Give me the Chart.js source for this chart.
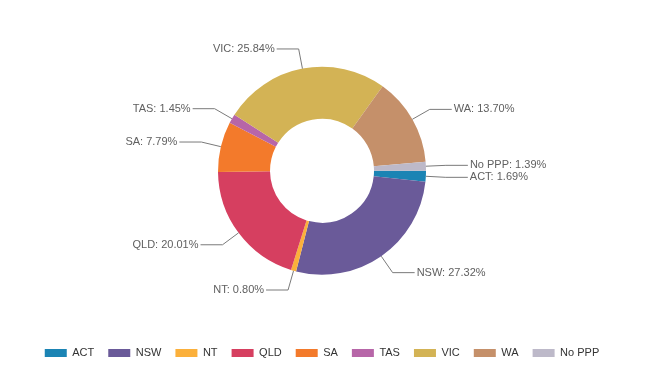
<!DOCTYPE html>
<html>
<head>
<meta charset="utf-8">
<script src="https://cdn.jsdelivr.net/npm/chart.js@4"></script>
<style>
  html, body { margin: 0; padding: 0; background: #fff; }
  #wrap { width: 650px; height: 374px; }
</style>
</head>
<body>
<div id="wrap"><canvas id="ppp"></canvas></div>
<script>
const states = ["ACT", "NSW", "NT", "QLD", "SA", "TAS", "VIC", "WA", "No PPP"];
const shares = [1.69, 27.32, 0.8, 20.01, 7.79, 1.45, 25.84, 13.7, 1.39];
const colours = ["#1b84b4", "#6a5a99", "#fbb03b", "#d63f60", "#f37a2b", "#b766a8", "#d3b355", "#c5906a", "#bdb9c9"];

// draws "NAME: xx.xx%" outside each slice with an elbow leader line
const outsideLabels = {
  id: "outsideLabels",
  afterDraw(chart) {
    const ctx = chart.ctx;
    const meta = chart.getDatasetMeta(0);
    ctx.save();
    ctx.font = "11px 'Liberation Sans', Arial, sans-serif";
    ctx.textBaseline = "middle";
    ctx.lineWidth = 1;
    meta.data.forEach((arc, i) => {
      const { x, y, startAngle, endAngle, outerRadius } = arc.getProps(
        ["x", "y", "startAngle", "endAngle", "outerRadius"], true);
      const mid = (startAngle + endAngle) / 2;
      const cos = Math.cos(mid), sin = Math.sin(mid);
      const x1 = x + outerRadius * cos, y1 = y + outerRadius * sin;
      const x2 = x + (outerRadius + 20) * cos, y2 = y + (outerRadius + 20) * sin;
      const right = cos >= 0;
      const x3 = right ? x2 + 22 : x2 - 22;
      ctx.strokeStyle = "#7a7a7a";
      ctx.beginPath();
      ctx.moveTo(x1, y1);
      ctx.lineTo(x2, y2);
      ctx.lineTo(x3, y2);
      ctx.stroke();
      ctx.fillStyle = "#606060";
      ctx.textAlign = right ? "left" : "right";
      ctx.fillText(states[i] + ": " + shares[i].toFixed(2) + "%", right ? x3 + 2 : x3 - 2, y2);
    });
    ctx.restore();
  }
};

new Chart(document.getElementById("ppp"), {
  type: "doughnut",
  data: {
    labels: states,
    datasets: [
      {
        data: shares,
        backgroundColor: colours,
        borderWidth: 0,
      },
    ],
  },
  options: {
    responsive: true,
    maintainAspectRatio: false,
    animation: false,
    rotation: 90,
    radius: 104,
    cutout: "50%",
    layout: { padding: { top: 8, right: 6, bottom: 5.5, left: 0 } },
    plugins: {
      tooltip: { enabled: false },
      legend: {
        position: "bottom",
        labels: {
          boxWidth: 22,
          boxHeight: 8,
          padding: 14,
          color: "#333",
          font: { size: 11, family: "'Liberation Sans', Arial, sans-serif" },
        },
      },
    },
  },
  plugins: [outsideLabels],
});
</script>
</body>
</html>
